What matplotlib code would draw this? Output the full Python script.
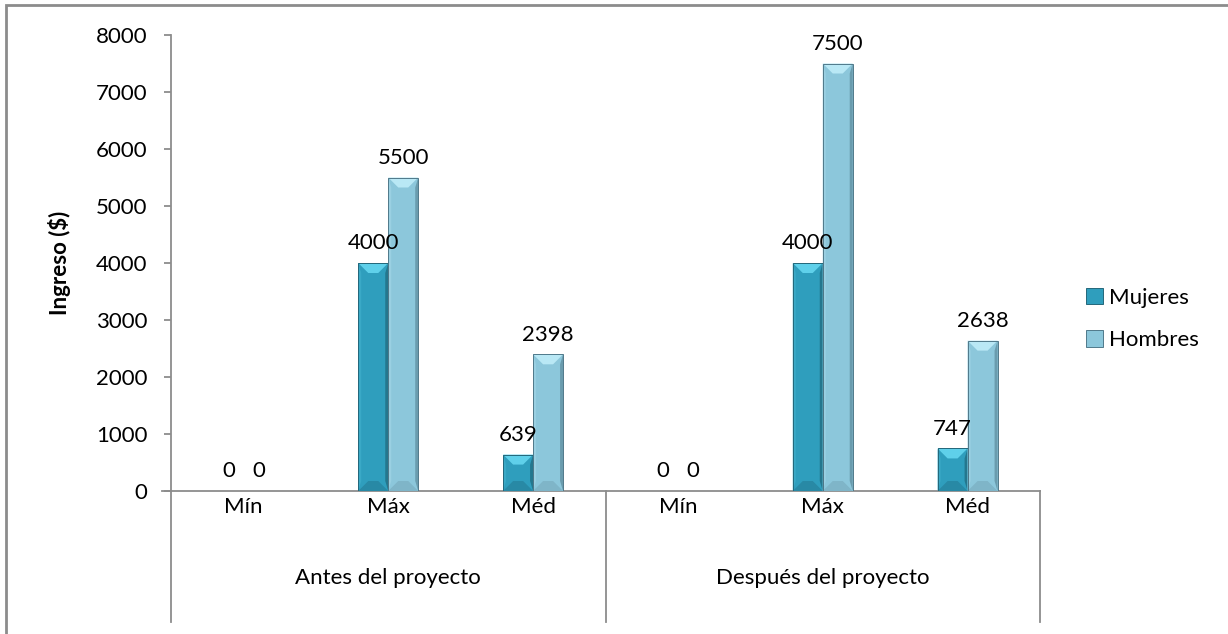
import matplotlib
matplotlib.use("Agg")
import matplotlib.pyplot as plt
from matplotlib.patches import Polygon, Rectangle, Patch
from matplotlib.lines import Line2D
import numpy as np

plt.rcParams['font.family'] = ['Lato', 'DejaVu Sans']

# --- data ---
groups = ["Antes del proyecto", "Después del proyecto"]
categories = ["Mín", "Máx", "Méd"]
series_names = ["Mujeres", "Hombres"]
mujeres = [0, 4000, 639, 0, 4000, 747]
hombres = [0, 5500, 2398, 0, 7500, 2638]
y_ticks = [0, 1000, 2000, 3000, 4000, 5000, 6000, 7000, 8000]
y_label = "Ingreso ($)"

# colour sets: front, top bevel, left edge, right edge, bottom bevel, outline
palette = {
    "Mujeres": ("#2f9ebd", "#5fd0ea", "#3aa9c6", "#24778e", "#2889a5", "#24677a"),
    "Hombres": ("#8cc7db", "#b9e8f5", "#9ad0e2", "#6a9cae", "#7fb5c8", "#50798a"),
}

W, H = 1228, 634
DPI = 100
fig = plt.figure(figsize=(W / DPI, H / DPI), dpi=DPI)

ax_left, ax_right, ax_top, ax_bottom = 171, 1040, 35, 491
ax = fig.add_axes([ax_left / W, 1 - ax_bottom / H,
                   (ax_right - ax_left) / W, (ax_bottom - ax_top) / H])

n_cat = len(mujeres)
ax.set_xlim(0, n_cat)
ax.set_ylim(0, 8000)

axis_gray = "#8c8c8c"
FS = 16

for s in ["top", "right"]:
    ax.spines[s].set_visible(False)
ax.spines["left"].set_color(axis_gray)
ax.spines["bottom"].set_color(axis_gray)
ax.spines["left"].set_linewidth(1.3)
ax.spines["bottom"].set_linewidth(1.3)
ax.set_yticks(y_ticks)
ax.set_yticklabels([str(t) for t in y_ticks], fontsize=FS)
ax.tick_params(axis="y", length=5, color=axis_gray, width=1.3, pad=12)
ax.set_xticks([])
ax.set_ylabel(y_label, fontsize=FS, fontweight="bold", labelpad=18)

# pixel -> data conversion for bevel sizes
px_x = (ax_right - ax_left) / n_cat
px_y = (ax_bottom - ax_top) / 8000.0
side_x = 3 / px_x
cap_x = 10 / px_x
cap_y = 10 / px_y

bar_w = 0.207
centers = np.arange(n_cat) + 0.5


def bevel_bar(x0, v, cols):
    front, top, left, right, bottom, edge = cols
    if v <= 0:
        return
    cy = min(cap_y, v / 2.5)
    x1 = x0 + bar_w
    ax.add_patch(Rectangle((x0, 0), bar_w, v, facecolor=front,
                           edgecolor="none", zorder=3))
    faces = [
        ([(x0, 0), (x0, v), (x0 + side_x, v - cy), (x0 + side_x, cy)], left),
        ([(x1, 0), (x1, v), (x1 - side_x, v - cy), (x1 - side_x, cy)], right),
        ([(x0, 0), (x1, 0), (x1 - cap_x, cy), (x0 + cap_x, cy)], bottom),
        ([(x0, v), (x1, v), (x1 - cap_x, v - cy), (x0 + cap_x, v - cy)], top),
    ]
    for pts, c in faces:
        ax.add_patch(Polygon(pts, closed=True, facecolor=c, edgecolor="none", zorder=3.1))
    ax.add_patch(Rectangle((x0, 0), bar_w, v, facecolor="none",
                           edgecolor=edge, linewidth=0.7, zorder=3.2))


for i in range(n_cat):
    xm = centers[i] - bar_w
    xh = centers[i]
    bevel_bar(xm, mujeres[i], palette["Mujeres"])
    bevel_bar(xh, hombres[i], palette["Hombres"])
    ax.annotate(str(mujeres[i]), (xm + bar_w / 2, mujeres[i]),
                xytext=(0, 7), textcoords="offset points",
                ha="center", va="bottom", fontsize=FS, zorder=5)
    ax.annotate(str(hombres[i]), (xh + bar_w / 2, hombres[i]),
                xytext=(0, 7), textcoords="offset points",
                ha="center", va="bottom", fontsize=FS, zorder=5)

# multi-level category axis
trans = ax.get_xaxis_transform()
for i in range(n_cat):
    ax.text(centers[i], -0.035, categories[i % len(categories)], transform=trans,
            ha="center", va="center", fontsize=FS)
n_per = len(categories)
for g, name in enumerate(groups):
    ax.text(g * n_per + n_per / 2, -0.19, name, transform=trans,
            ha="center", va="center", fontsize=FS)
sep_low = -(622 - ax_bottom) / (ax_bottom - ax_top)
for g in range(len(groups) + 1):
    ax.add_line(Line2D([g * n_per, g * n_per], [0, sep_low], transform=trans,
                       color=axis_gray, linewidth=1.3, clip_on=False))
ax.add_line(Line2D([-(ax_left - 162) / px_x, 0], [0, 0], transform=trans,
                   color=axis_gray, linewidth=1.3, clip_on=False))

# legend
handles = [Patch(facecolor=palette[n][0], edgecolor=palette[n][5], linewidth=0.7)
           for n in series_names]
leg = fig.legend(handles, series_names, loc="center left",
                 bbox_to_anchor=(1066 / W, 1 - 319 / H), frameon=False,
                 fontsize=FS, handlelength=0.75, handleheight=0.75,
                 handletextpad=0.3, labelspacing=1.0)

# outer chart frame
fig.add_artist(Rectangle((6 / W, -0.05), 1.1, 1.05 - 5 / H,
                         transform=fig.transFigure, facecolor="none",
                         edgecolor="#8c8c8c", linewidth=2, clip_on=False))

fig.savefig("out.png", dpi=DPI)
